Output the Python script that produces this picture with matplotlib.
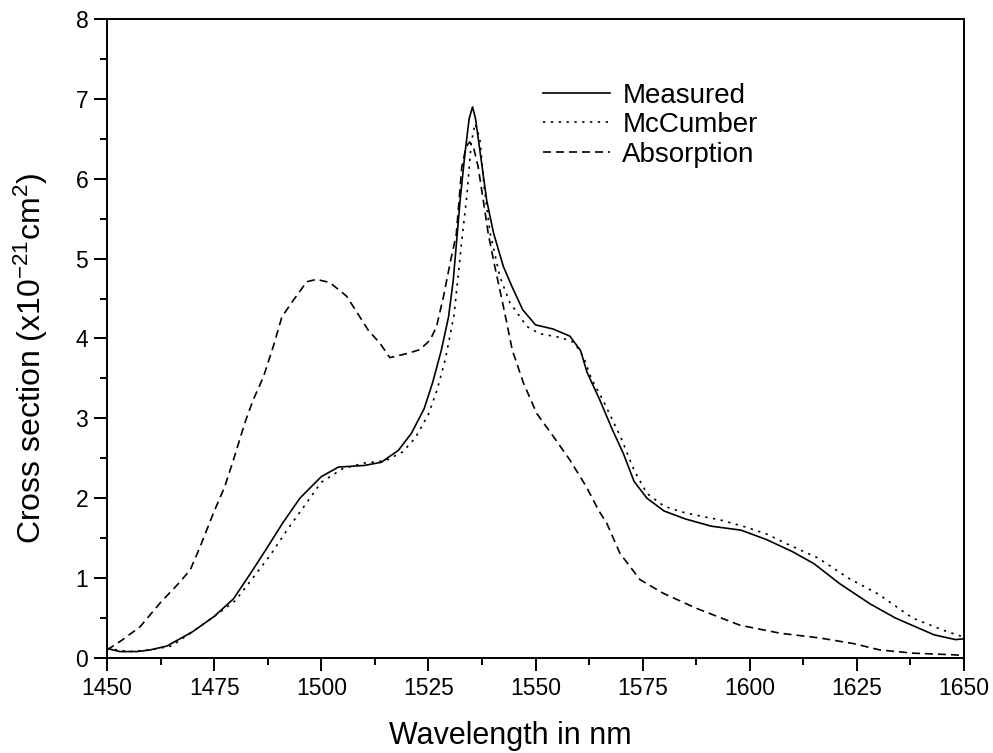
import numpy as np
import matplotlib
matplotlib.use("Agg")
import matplotlib.pyplot as plt
from matplotlib.ticker import MultipleLocator

plt.rcParams['font.family'] = ['Liberation Sans', 'DejaVu Sans']
plt.rcParams['mathtext.default'] = 'regular'

# measured emission cross section
wl_meas = [1450, 1453, 1457, 1460, 1464, 1470, 1475, 1479.5, 1483.5, 1487, 1491, 1495, 1500,
           1504, 1510, 1514, 1518, 1521, 1524, 1526, 1528, 1529.7, 1530.8, 1531.6, 1532.4,
           1533.5, 1534.5, 1535.3, 1536, 1537, 1538.6, 1540.2, 1542.5, 1544.5, 1547, 1550,
           1554, 1558, 1560.5, 1562, 1565, 1568, 1570.5, 1573, 1576, 1580, 1585, 1591, 1598,
           1604, 1610, 1615, 1621, 1628, 1634, 1643, 1648, 1650]
cs_meas = [0.12, 0.08, 0.08, 0.10, 0.15, 0.33, 0.52, 0.74, 1.06, 1.35, 1.69, 2.0, 2.27,
           2.39, 2.41, 2.45, 2.6, 2.81, 3.12, 3.45, 3.85, 4.27, 4.73, 5.23, 5.73,
           6.3, 6.75, 6.9, 6.75, 6.36, 5.73, 5.32, 4.9, 4.65, 4.36, 4.17,
           4.12, 4.03, 3.85, 3.58, 3.23, 2.85, 2.56, 2.21, 2.0, 1.84, 1.74, 1.65, 1.6,
           1.48, 1.33, 1.18, 0.93, 0.68, 0.5, 0.29, 0.23, 0.24]

# McCumber calculated emission
wl_mc = [1450, 1455, 1460, 1465, 1470, 1475, 1480, 1484, 1488, 1492, 1496, 1500, 1505, 1510,
         1515, 1519, 1522, 1525, 1527, 1529, 1531, 1532.8, 1534, 1535, 1535.9, 1537, 1538,
         1539.4, 1541.7, 1544, 1548, 1551, 1556, 1559, 1561.2, 1563, 1566, 1570, 1573, 1576,
         1580, 1584, 1589, 1593, 1599, 1604, 1609, 1616, 1623, 1630, 1638, 1645, 1650]
cs_mc = [0.12, 0.08, 0.1, 0.15, 0.33, 0.52, 0.72, 1.0, 1.28, 1.6, 1.9, 2.2, 2.37, 2.44,
         2.47, 2.58, 2.76, 3.05, 3.35, 3.75, 4.3, 5.23, 5.8, 6.45, 6.69, 6.5, 5.9,
         5.32, 4.77, 4.45, 4.15, 4.06, 4.01, 3.95, 3.77, 3.5, 3.2, 2.75, 2.35, 2.06,
         1.9, 1.83, 1.77, 1.73, 1.64, 1.55, 1.42, 1.25, 1.0, 0.8, 0.5, 0.35, 0.26]

# absorption cross section
wl_abs = [1450, 1453.4, 1457.7, 1462.4, 1466.3, 1469.4, 1471.7, 1474.8, 1477.5, 1479.5, 1482.2,
          1484.1, 1486.5, 1488.8, 1490.8, 1493.5, 1496.6, 1498.9, 1502, 1505.9, 1509, 1511,
          1513.7, 1516, 1519.9, 1523, 1525.4, 1526.9, 1528.5, 1530.2, 1531.5, 1532.8, 1533.8,
          1534.6, 1535.5, 1536.6, 1537.8, 1539, 1540.5, 1542.5, 1544.6, 1547.2, 1550.3,
          1554.2, 1558, 1561.9, 1564.7, 1566.6, 1569.7, 1574.4, 1579.8, 1587.6, 1597.7,
          1607.1, 1616.4, 1624.2, 1630.4, 1638.2, 1647.5, 1650]
cs_abs = [0.1, 0.22, 0.39, 0.69, 0.91, 1.1, 1.39, 1.81, 2.15, 2.48, 2.95,
          3.23, 3.52, 3.9, 4.27, 4.48, 4.71, 4.74, 4.7, 4.53, 4.27, 4.1,
          3.94, 3.76, 3.81, 3.86, 3.98, 4.15, 4.52, 4.98, 5.3, 6.15, 6.4,
          6.46, 6.4, 6.15, 5.73, 5.3, 4.9, 4.4, 3.85, 3.44, 3.06,
          2.77, 2.48, 2.14, 1.85, 1.69, 1.31, 0.98, 0.81, 0.62, 0.41,
          0.31, 0.25, 0.18, 0.1, 0.06, 0.04, 0.03]

fig = plt.figure(figsize=(9.93, 7.53), dpi=100)
ax = fig.add_axes([0.1078, 0.1262, 0.863, 0.8486])

ax.plot(wl_meas, cs_meas, color='black', lw=1.2, label='Measured')
ax.plot(wl_mc, cs_mc, color='black', lw=1.2, dashes=(1.4, 3.3), label='McCumber')
ax.plot(wl_abs, cs_abs, color='black', lw=1.2, dashes=(4.8, 3.0), label='Absorption')

ax.set_xlim(1450, 1650)
ax.set_ylim(0, 8)
ax.xaxis.set_major_locator(MultipleLocator(25))
ax.xaxis.set_minor_locator(MultipleLocator(12.5))
ax.yaxis.set_major_locator(MultipleLocator(1))
ax.yaxis.set_minor_locator(MultipleLocator(0.5))

for s in ax.spines.values():
    s.set_linewidth(1.4)
ax.tick_params(which='major', direction='out', length=9.5, width=1.4, labelsize=16.5, pad=4)
ax.tick_params(which='minor', direction='out', length=5, width=1.4)
ax.tick_params(top=False, right=False, which='both')

ax.set_xlabel('Wavelength in nm', fontsize=22)
ax.set_ylabel('Cross section (x10$^{-21}$cm$^{2}$)', fontsize=23)
ax.xaxis.set_label_coords(0.47, -0.098)
ax.yaxis.set_label_coords(-0.066, 0.468)

ax.legend(loc='upper left', bbox_to_anchor=(0.509, 0.9), frameon=False, fontsize=20,
          handlelength=2.4, handletextpad=0.45, labelspacing=0.12, borderpad=0, borderaxespad=0)

fig.savefig('out.png', dpi=100)
